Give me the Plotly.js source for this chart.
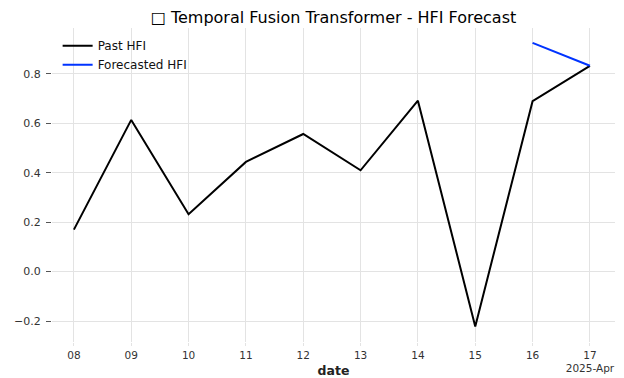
<!DOCTYPE html>
<html><head><meta charset="utf-8">
<script src="https://cdn.plot.ly/plotly-3.0.1.min.js"></script>
<style>html,body{margin:0;padding:0;background:#fff}#c{width:624px;height:378px}</style>
</head><body><div id="c"></div>
<script>
const pastDates = ["2025-04-08","2025-04-09","2025-04-10","2025-04-11","2025-04-12","2025-04-13","2025-04-14","2025-04-15","2025-04-16","2025-04-17"];
const pastHFI = [0.17, 0.614, 0.232, 0.444, 0.557, 0.41, 0.692, -0.222, 0.69, 0.833];
const fcDates = ["2025-04-16","2025-04-17"];
const fcHFI = [0.926, 0.833];
const tickVals = pastDates;
const tickText = ["08","09","10","11","12","13","14","15","16","17<br>2025-Apr"];
const yTicks = [-0.2, 0, 0.2, 0.4, 0.6, 0.8];
const yTickText = ["\u22120.2","0.0","0.2","0.4","0.6","0.8"];

const traces = [
  {x: pastDates, y: pastHFI, mode: "lines", name: "Past HFI", line: {color: "#000000", width: 2}},
  {x: fcDates, y: fcHFI, mode: "lines", name: "Forecasted HFI", line: {color: "#0033ff", width: 2}}
];
const layout = {
  width: 624, height: 378,
  margin: {l: 52, r: 9, t: 28, b: 36},
  paper_bgcolor: "#fff", plot_bgcolor: "#fff",
  font: {family: "DejaVu Sans", size: 11, color: "#333"},
  title: {text: "\u25A1 Temporal Fusion Transformer - HFI Forecast", font: {family: "DejaVu Sans", size: 16, color: "#000"}, xref: "paper", x: 0.5, xanchor: "center", y: 0.955, yanchor: "middle"},
  xaxis: {
    type: "date", range: ["2025-04-07 14:50", "2025-04-17 10:30"],
    tickmode: "array", tickvals: tickVals, ticktext: tickText,
    showgrid: true, gridcolor: "#e3e3e3", gridwidth: 1, zeroline: false, showline: false,
    ticks: "outside", ticklen: 3, tickcolor: "#e3e3e3",
    tickfont: {size: 10.5, color: "#333"},
    title: {text: "<b>date</b>", font: {size: 12.5, color: "#222"}, standoff: 3}
  },
  yaxis: {
    range: [-0.285, 0.986],
    tickmode: "array", tickvals: yTicks, ticktext: yTickText,
    showgrid: true, gridcolor: "#e3e3e3", gridwidth: 1, zeroline: false, showline: false,
    ticks: "outside", ticklen: 5, tickcolor: "#555", ticklabelstandoff: 3,
    tickfont: {size: 11, color: "#333"}
  },
  showlegend: true,
  legend: {x: 0.01, y: 0.99, xanchor: "left", yanchor: "top", bgcolor: "rgba(0,0,0,0)", font: {size: 12, color: "#111"}, tracegroupgap: 0}
};
Plotly.newPlot("c", traces, layout, {displayModeBar: false, staticPlot: true});
</script></body></html>
